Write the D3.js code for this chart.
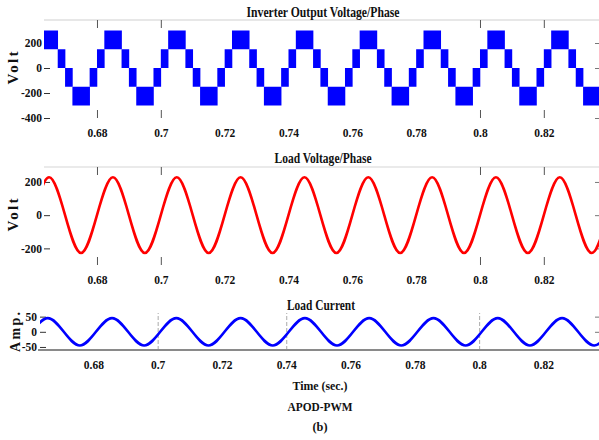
<!DOCTYPE html>
<html><head><meta charset="utf-8">
<script src="https://cdn.jsdelivr.net/npm/d3@7"></script>
<style>body{margin:0;background:#fff}svg{display:block}</style>
</head><body>
<svg id="c" width="599" height="440"></svg>
<script>
// ---------- data ----------
const xTickValues = [0.68, 0.70, 0.72, 0.74, 0.76, 0.78, 0.80, 0.82];
const xTickMarks12 = [0.68, 0.70, 0.80, 0.82];
const xTickMarks3 = [0.70, 0.74, 0.80];
const timeDomain = [0.6634, 0.8376];

// Inverter output: PWM bands (switching between adjacent levels)
const bandEdges = [
  0.6600, 0.6623, 0.6677, 0.6700, 0.6723, 0.6777,
  0.6800, 0.6823, 0.6877, 0.6900, 0.6923, 0.6977,
  0.7000, 0.7023, 0.7077, 0.7100, 0.7123, 0.7177,
  0.7200, 0.7223, 0.7277, 0.7300, 0.7323, 0.7377,
  0.7400, 0.7423, 0.7477, 0.7500, 0.7523, 0.7577,
  0.7600, 0.7623, 0.7677, 0.7700, 0.7723, 0.7777,
  0.7800, 0.7823, 0.7877, 0.7900, 0.7923, 0.7977,
  0.8000, 0.8023, 0.8077, 0.8100, 0.8123, 0.8177,
  0.8200, 0.8223, 0.8277, 0.8300, 0.8323, 0.8377,
  0.8400
];
const bandLow = [
  0, 150, 0, -150, -300, -150,
  0, 150, 0, -150, -300, -150,
  0, 150, 0, -150, -300, -150,
  0, 150, 0, -150, -300, -150,
  0, 150, 0, -150, -300, -150,
  0, 150, 0, -150, -300, -150,
  0, 150, 0, -150, -300, -150,
  0, 150, 0, -150, -300, -150,
  0, 150, 0, -150, -300, -150
];
const bandHigh = [
  150, 300, 150, 0, -150, 0,
  150, 300, 150, 0, -150, 0,
  150, 300, 150, 0, -150, 0,
  150, 300, 150, 0, -150, 0,
  150, 300, 150, 0, -150, 0,
  150, 300, 150, 0, -150, 0,
  150, 300, 150, 0, -150, 0,
  150, 300, 150, 0, -150, 0,
  150, 300, 150, 0, -150, 0
];

// Load voltage: peaks / zero crossings
const loadVTime = [
  0.660, 0.665, 0.670, 0.675, 0.680, 0.685, 0.690, 0.695, 0.700, 0.705,
  0.710, 0.715, 0.720, 0.725, 0.730, 0.735, 0.740, 0.745, 0.750, 0.755,
  0.760, 0.765, 0.770, 0.775, 0.780, 0.785, 0.790, 0.795, 0.800, 0.805,
  0.810, 0.815, 0.820, 0.825, 0.830, 0.835, 0.840
];
const loadV = [
  0, 228, 0, -228, 0, 228, 0, -228, 0, 228,
  0, -228, 0, 228, 0, -228, 0, 228, 0, -228,
  0, 228, 0, -228, 0, 228, 0, -228, 0, 228,
  0, -228, 0, 228, 0, -228, 0
];

// Load current: peaks / zero crossings (slightly lagging)
const loadITime = [
  0.6608, 0.6658, 0.6708, 0.6758, 0.6808, 0.6858, 0.6908, 0.6958, 0.7008, 0.7058,
  0.7108, 0.7158, 0.7208, 0.7258, 0.7308, 0.7358, 0.7408, 0.7458, 0.7508, 0.7558,
  0.7608, 0.7658, 0.7708, 0.7758, 0.7808, 0.7858, 0.7908, 0.7958, 0.8008, 0.8058,
  0.8108, 0.8158, 0.8208, 0.8258, 0.8308, 0.8358, 0.8408
];
const loadI = [
  0, 45, 0, -45, 0, 45, 0, -45, 0, 45,
  0, -45, 0, 45, 0, -45, 0, 45, 0, -45,
  0, 45, 0, -45, 0, 45, 0, -45, 0, 45,
  0, -45, 0, 45, 0, -45, 0
];

const yTicks1 = [200, 0, -200, -400];
const yTicks2 = [200, 0, -200];
const yTicks3 = [50, 0, -50];

const titles = ["Inverter Output Voltage/Phase", "Load Voltage/Phase", "Load Current"];
const yLabels = ["Volt", "Volt", "Amp."];
const xLabel = "Time (sec.)";
const caption = "APOD-PWM";
const subCaption = "(b)";

// ---------- drawing ----------
const svg = d3.select("#c");
const FONT = "'Liberation Serif','Times New Roman',serif";

function text(x, y, str, size, len, opts = {}) {
  const t = svg.append("text")
    .attr("x", x).attr("y", y)
    .attr("text-anchor", opts.anchor || "middle")
    .attr("font-family", FONT).attr("font-weight", "bold")
    .attr("font-size", size).attr("fill", "#111")
    .text(str);
  if (len) t.attr("textLength", len).attr("lengthAdjust", opts.adjust || "spacingAndGlyphs");
  if (opts.rotate) t.attr("transform", `rotate(-90,${x},${y})`);
  return t;
}

function makePanel(cfg) {
  const x = d3.scaleLinear().domain(timeDomain).range([cfg.left, 600]);
  const y = d3.scaleLinear().domain(cfg.yDom).range([cfg.bottom, cfg.top]);
  const g = svg.append("g");

  const clipId = "clip" + cfg.id;
  svg.append("clipPath").attr("id", clipId).append("rect")
    .attr("x", cfg.left).attr("y", cfg.top - 2)
    .attr("width", 600 - cfg.left).attr("height", cfg.bottom - cfg.top + 4);

  // x tick labels
  const xa = g.append("g").attr("transform", `translate(0,${cfg.bottom})`)
    .call(d3.axisBottom(x).tickValues(xTickValues).tickSize(0)
      .tickPadding(cfg.labelPad).tickFormat(d => String(d)));
  xa.select(".domain").remove();
  xa.selectAll("text").attr("font-family", FONT).attr("font-weight", "bold")
    .attr("font-size", 11.5).attr("fill", "#111");

  // y axis (inward ticks, labels left)
  const ya = g.append("g").attr("transform", `translate(${cfg.left},0)`)
    .call(d3.axisLeft(y).tickValues(cfg.yTicks).tickSize(-6).tickPadding(cfg.yPad)
      .tickFormat(d => String(d)));
  ya.select(".domain").remove();
  ya.selectAll("line").attr("stroke", "#333");
  ya.selectAll("text").attr("font-family", FONT).attr("font-weight", "bold")
    .attr("font-size", 11.5).attr("fill", "#111");

  // right inward ticks
  const yr = g.append("g").attr("transform", `translate(599,0)`)
    .call(d3.axisRight(y).tickValues(cfg.yTicksRight).tickSize(-4).tickFormat(""));
  yr.select(".domain").remove();
  yr.selectAll("line").attr("stroke", "#777");

  return { x, y, g, clipId };
}

// Panel 1
const p1 = makePanel({ id: 1, left: 44, top: 20, bottom: 118, yDom: [-400, 384],
  yTicks: yTicks1, yTicksRight: [200, 0, -400], labelPad: 11, yPad: 2 });
p1.g.append("line").attr("x1", 44).attr("x2", 599).attr("y1", 20).attr("y2", 20)
  .attr("stroke", "#cfcfcf").attr("stroke-width", 1.2);
p1.g.append("g").attr("transform", "translate(0,20)")
  .call(d3.axisTop(p1.x).tickValues(xTickMarks12).tickSize(-8).tickFormat(""))
  .call(a => a.select(".domain").remove())
  .selectAll("line").attr("stroke", "#555");
p1.g.append("g").attr("transform", "translate(0,118)")
  .call(d3.axisBottom(p1.x).tickValues(xTickMarks12).tickSize(-8).tickFormat(""))
  .call(a => a.select(".domain").remove())
  .selectAll("line").attr("stroke", "#555");

const bands = bandLow.map((lo, i) => ({ t0: bandEdges[i], t1: bandEdges[i + 1], lo, hi: bandHigh[i] }));
p1.g.append("g").attr("clip-path", `url(#${p1.clipId})`)
  .selectAll("rect").data(bands).join("rect")
  .attr("x", d => p1.x(d.t0))
  .attr("width", d => p1.x(d.t1) - p1.x(d.t0) + 0.3)
  .attr("y", d => p1.y(d.hi))
  .attr("height", d => p1.y(d.lo) - p1.y(d.hi))
  .attr("fill", "#0000ff");

// Panel 2
const p2 = makePanel({ id: 2, left: 44, top: 167, bottom: 265, yDom: [-300, 290],
  yTicks: yTicks2, yTicksRight: [200, 0, -200], labelPad: 11, yPad: 2 });
p2.g.append("line").attr("x1", 44).attr("x2", 599).attr("y1", 167).attr("y2", 167)
  .attr("stroke", "#d5d5d5").attr("stroke-width", 1.2);
p2.g.append("g").attr("transform", "translate(0,167)")
  .call(d3.axisTop(p2.x).tickValues(xTickMarks12).tickSize(-8).tickFormat(""))
  .call(a => a.select(".domain").remove())
  .selectAll("line").attr("stroke", "#555");
p2.g.append("g").attr("transform", "translate(0,265)")
  .call(d3.axisBottom(p2.x).tickValues(xTickMarks12).tickSize(-8).tickFormat(""))
  .call(a => a.select(".domain").remove())
  .selectAll("line").attr("stroke", "#555");
const vPts = loadVTime.map((t, i) => [t, loadV[i]]);
p2.g.append("path").datum(vPts).attr("clip-path", `url(#${p2.clipId})`)
  .attr("fill", "none").attr("stroke", "#ff0000").attr("stroke-width", 2.6)
  .attr("d", d3.line().x(d => p2.x(d[0])).y(d => p2.y(d[1])).curve(d3.curveNatural));

// Panel 3
const p3 = makePanel({ id: 3, left: 40, top: 313, bottom: 350, yDom: [-60, 62],
  yTicks: yTicks3, yTicksRight: [50, 0], labelPad: 11, yPad: 3 });
p3.g.append("g").attr("transform", "translate(0,350)")
  .call(d3.axisBottom(p3.x).tickValues(xTickMarks3).tickSize(-37).tickFormat(""))
  .call(a => a.select(".domain").remove())
  .selectAll("line").attr("stroke", "#aaa").attr("stroke-dasharray", "4,2");
p3.g.append("line").attr("x1", 38).attr("x2", 599).attr("y1", 350).attr("y2", 350)
  .attr("stroke", "#8a8a8a").attr("stroke-width", 2);
const iPts = loadITime.map((t, i) => [t, loadI[i]]);
p3.g.append("path").datum(iPts).attr("clip-path", `url(#${p3.clipId})`)
  .attr("fill", "none").attr("stroke", "#0000ff").attr("stroke-width", 2.6)
  .attr("d", d3.line().x(d => p3.x(d[0])).y(d => p3.y(d[1])).curve(d3.curveNatural));

// Titles and labels
text(323, 17, titles[0], 14.5, 153);
text(323, 163, titles[1], 14.5, 97);
text(321, 310, titles[2], 14.5, 68);
text(18, 68, yLabels[0], 15, 33, { rotate: true, adjust: "spacing" });
text(18, 215, yLabels[1], 15, 33, { rotate: true, adjust: "spacing" });
text(20, 332, yLabels[2], 14, 40, { rotate: true, adjust: "spacing" });
text(320, 390, xLabel, 13.5, 55);
text(320, 411, caption, 13.5, 65);
text(320, 431, subCaption, 13.5, 15);
</script>
</body></html>
